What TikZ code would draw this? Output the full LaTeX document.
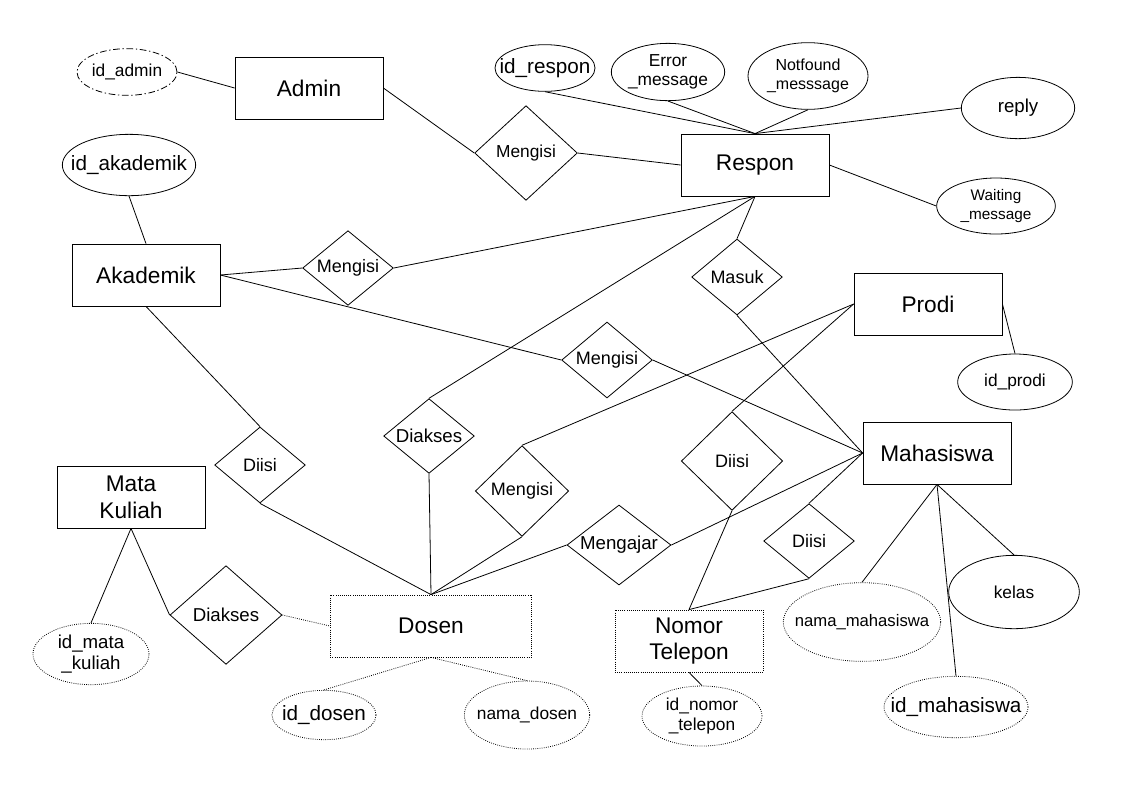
\documentclass[tikz,border=0pt]{standalone}
\usepackage{fontspec}
\setmainfont{Liberation Sans}
\usetikzlibrary{shapes.geometric, positioning}

\begin{document}
\begin{tikzpicture}[x=0.75pt, y=-0.75pt, line width=0.6pt]

        % Define styles
        \tikzstyle{entity} = [rectangle, draw, minimum width=111pt, minimum height=46.5pt, align=center, font=\fontsize{17}{20}\selectfont]
        \tikzstyle{attrib} = [ellipse, draw, inner xsep=-12pt, inner ysep=0pt, align=center, font=\fontsize{13}{14.5}\selectfont]
        \tikzstyle{bigattr} = [font=\fontsize{15.5}{17}\selectfont]
        \tikzstyle{relation} = [diamond, draw, inner sep=-4pt, font=\fontsize{13.5}{15}\selectfont]
        \tikzstyle{weak} = [densely dotted]

        \useasboundingbox (0,0) rectangle (1123,794);

        % Entities
        \node[entity] (admin) at (309,88) {Admin};
        \node[entity] (respon) at (755,165) {Respon};
        \node[entity] (akademik) at (146,275) {Akademik};
        \node[entity] (prodi) at (928,304) {Prodi};
        \node[entity] (mhs) at (937,453) {Mahasiswa};
        \node[entity] (matkul) at (131,497) {Mata\\Kuliah};
        \node[entity, weak, minimum width=151pt] (dosen) at (431,626) {Dosen};
        \node[entity, weak] (notelp) at (689,641) {Nomor\\Telepon};

        % Attributes
        \node[attrib, dash pattern=on 5pt off 2pt on 1pt off 2pt, minimum width=75pt, minimum height=35pt] (idadmin) at (127,72) {id\_admin};
        \node[attrib, bigattr, minimum width=100pt, minimum height=46pt] (idakademik) at (129,165) {id\_akademik};
        \node[attrib, bigattr, minimum width=75pt, minimum height=35pt] (idrespon) at (545,68) {id\_respon};
        \node[attrib, minimum width=85pt, minimum height=43pt] (errmsg) at (668,72) {Error\\\_message};
        \node[attrib, font=\fontsize{12}{14}\selectfont, minimum width=90pt, minimum height=50pt] (notfound) at (808,76) {Notfound\\\_messsage};
        \node[attrib, font=\fontsize{14}{16}\selectfont, minimum width=85pt, minimum height=46pt] (reply) at (1018,108) {reply};
        \node[attrib, font=\fontsize{11.5}{14}\selectfont, minimum width=89pt, minimum height=42pt] (waiting) at (996,206) {Waiting\\\_message};
        \node[attrib, minimum width=86pt, minimum height=42pt] (idprodi) at (1015,382) {id\_prodi};
        \node[attrib, minimum width=98pt, minimum height=55pt] (kelas) at (1014,592) {kelas};
        \node[attrib, weak, font=\fontsize{12.5}{14}\selectfont, minimum width=118pt, minimum height=59pt] (namamhs) at (862,622) {nama\_mahasiswa};
        \node[attrib, weak, bigattr, minimum width=108pt, minimum height=46pt] (idmhs) at (956,707) {id\_mahasiswa};
        \node[attrib, weak, minimum width=90pt, minimum height=45pt] (idnotelp) at (702,716) {id\_nomor\\\_telepon};
        \node[attrib, weak, bigattr, minimum width=78pt, minimum height=37pt] (iddosen) at (324,715) {id\_dosen};
        \node[attrib, weak, minimum width=94pt, minimum height=51pt] (namadosen) at (527,715) {nama\_dosen};
        \node[attrib, weak, font=\fontsize{14}{15.5}\selectfont, minimum width=87pt, minimum height=46pt] (idmatkul) at (91,654) {id\_mata\\\_kuliah};

        % Relationships
        \node[relation, font=\fontsize{13}{15}\selectfont, minimum width=77pt, minimum height=71pt] (isiAdmin) at (526,153) {Mengisi};
        \node[relation, minimum width=68pt, minimum height=56pt] (isiAkademik) at (348,268) {Mengisi};
        \node[relation, minimum width=68pt, minimum height=57pt] (masuk) at (737,277) {Masuk};
        \node[relation, minimum width=68pt, minimum height=57pt] (isiMhs) at (607,360) {Mengisi};
        \node[relation, minimum width=68pt, minimum height=57pt] (diisiDosen) at (260,465) {Diisi};
        \node[relation, font=\fontsize{14}{16}\selectfont, minimum width=68pt, minimum height=56pt] (aksesRespon) at (429,436) {Diakses};
        \node[relation, minimum width=70pt, minimum height=68pt] (isiProdi) at (522,491) {Mengisi};
        \node[relation, minimum width=76pt, minimum height=74pt] (diisiTelp) at (732,461) {Diisi};
        \node[relation, font=\fontsize{14}{16}\selectfont, minimum width=78pt, minimum height=60pt] (mengajar) at (619,545) {Mengajar};
        \node[relation, minimum width=68pt, minimum height=56pt] (diisiMhs) at (809,541) {Diisi};
        \node[relation, font=\fontsize{14}{16}\selectfont, minimum width=84pt, minimum height=74pt] (aksesMatkul) at (226,615) {Diakses};

        % Attribute links
        \draw (idadmin.east) -- (admin.west);
        \draw (idakademik.south) -- (akademik.north);
        \draw (respon.north) -- (idrespon.south);
        \draw (respon.north) -- (errmsg.south);
        \draw (respon.north) -- (notfound.south);
        \draw (respon.north) -- (reply.west);
        \draw (respon.east) -- (waiting.west);
        \draw (prodi.east) -- (idprodi.north);
        \draw (mhs.south) -- (namamhs.north);
        \draw (mhs.south) -- (kelas.north);
        \draw (mhs.south) -- (idmhs.north);
        \draw (notelp.south) -- (idnotelp.north);
        \draw[weak] (dosen.south) -- (iddosen.north);
        \draw[weak] (dosen.south) -- (namadosen.north);
        \draw (matkul.south) -- (idmatkul.north);

        % Relationship links
        \draw (admin.east) -- (isiAdmin.west);
        \draw (isiAdmin.east) -- (respon.west);
        \draw (akademik.east) -- (isiAkademik.west);
        \draw (isiAkademik.east) -- (respon.south);
        \draw (akademik.east) -- (isiMhs.west);
        \draw (isiMhs.east) -- (mhs.west);
        \draw (respon.south) -- (masuk.north);
        \draw (masuk.south) -- (mhs.west);
        \draw (respon.south) -- (aksesRespon.north);
        \draw (aksesRespon.south) -- (dosen.north);
        \draw (akademik.south) -- (diisiDosen.north);
        \draw (diisiDosen.south) -- (dosen.north);
        \draw (prodi.west) -- (isiProdi.north);
        \draw (isiProdi.south) -- (dosen.north);
        \draw (prodi.west) -- (diisiTelp.north);
        \draw (diisiTelp.south) -- (notelp.north);
        \draw (mhs.west) -- (mengajar.east);
        \draw (mengajar.west) -- (dosen.north);
        \draw (mhs.west) -- (diisiMhs.north);
        \draw (diisiMhs.south) -- (notelp.north);
        \draw (matkul.south) -- (aksesMatkul.west);
        \draw[weak] (aksesMatkul.east) -- (dosen.west);

\end{tikzpicture}
\end{document}
